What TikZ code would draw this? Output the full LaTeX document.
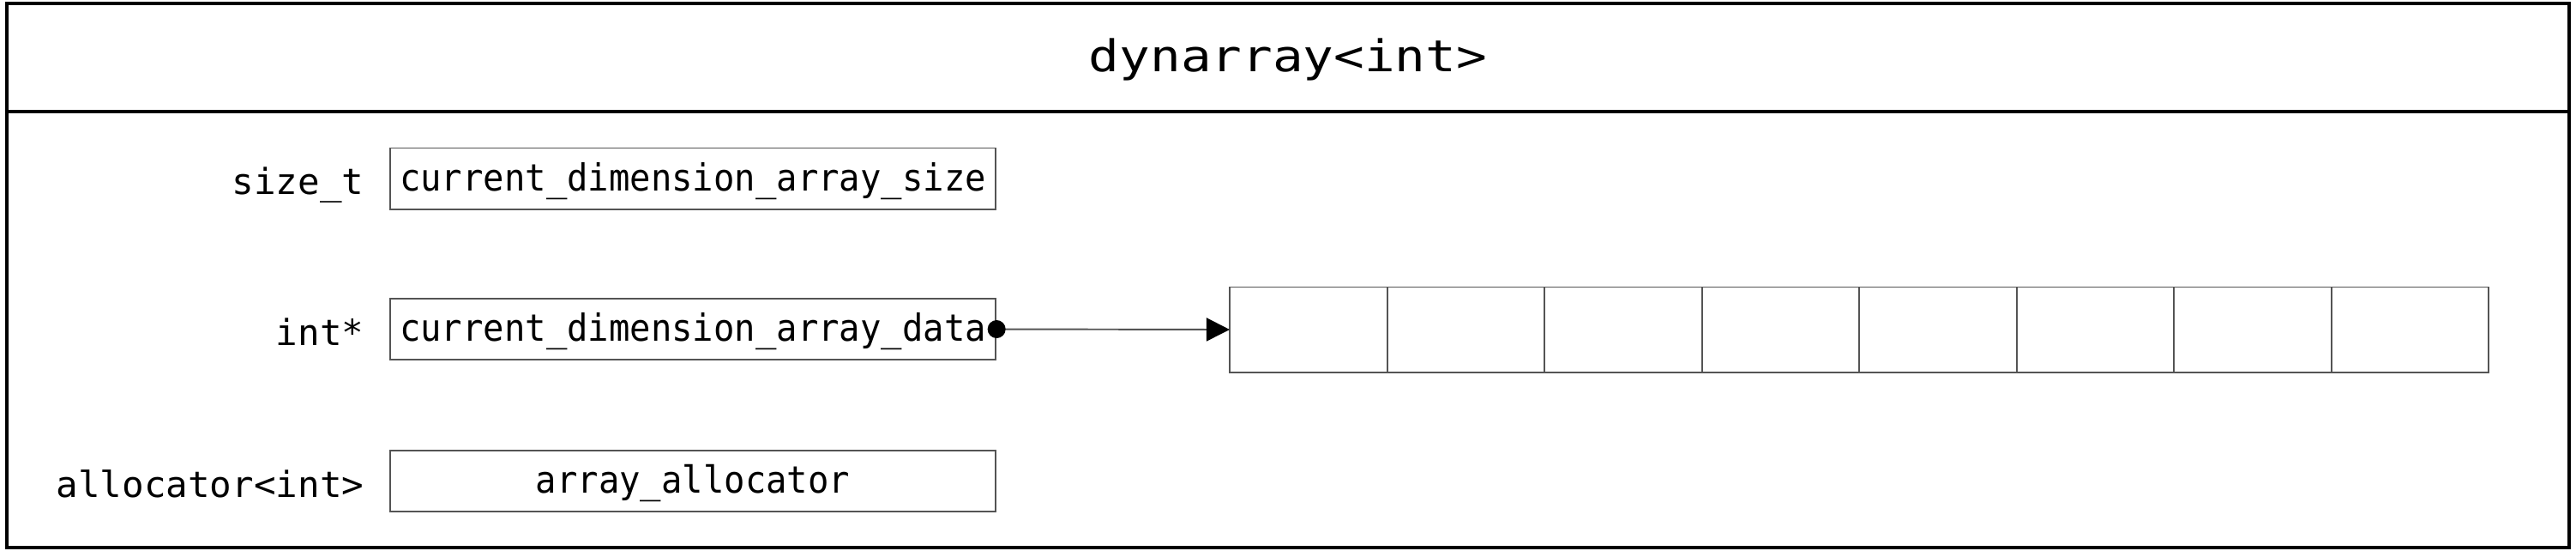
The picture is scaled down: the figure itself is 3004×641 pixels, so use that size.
\documentclass[tikz,border=0pt]{standalone}
\usepackage{fontspec}
\usetikzlibrary{arrows.meta}
\newfontfamily\fieldfont[FakeStretch=0.934]{DejaVu Sans Mono}
\newfontfamily\lblfont[FakeStretch=1.02]{DejaVu Sans Mono}
\newfontfamily\titlefont[FakeStretch=1.165]{DejaVu Sans Mono}
\definecolor{boxgray}{gray}{0.33}
\tikzset{
  frameline/.style={line width=1.14pt, draw=black},
  fieldbox/.style={draw=boxgray, line width=0.55pt, minimum width=7.06cm, minimum height=0.71cm,
    inner sep=0pt, text height=0.36cm, text depth=0.08cm,
    font=\fieldfont\fontsize{12.35pt}{14pt}\selectfont},
  lbltext/.style={anchor=base east, inner sep=0pt, font=\lblfont\fontsize{11.86pt}{14pt}\selectfont},
  titletext/.style={anchor=base, inner sep=0pt, font=\titlefont\fontsize{14.48pt}{17pt}\selectfont},
  cellbox/.style={draw=boxgray, line width=0.55pt, minimum width=1.835cm, minimum height=0.99cm, inner sep=0pt, outer sep=0pt},
  ptr/.style={draw=boxgray, line width=0.55pt, -{Triangle[length=0.27cm,width=0.27cm,fill=black,color=black]}},
}
\begin{document}
\begin{tikzpicture}[x=0.01cm,y=-0.01cm]
\useasboundingbox (0,0) rectangle (3004,641);
% outer frame
\draw[frameline] (8,3.8) rectangle (2996,638);
\draw[frameline] (8,130) -- (2996,130);
\node[titletext] (title) at (1502,83) {dynarray<int>};
% fields
\node[fieldbox] (fsize) at (808,208) {current\_dimension\_array\_size};
\node[fieldbox] (fdata) at (808,383.5) {current\_dimension\_array\_data};
\node[fieldbox] (falloc) at (808,560.5) {array\_allocator};
% type labels
\node[lbltext] (lsize) at (425,226) {size\_t};
\node[lbltext] (ldata) at (425,402) {int*};
\node[lbltext] (lalloc) at (425,579) {allocator<int>};
% array cells
\foreach \i in {1,...,8} {
  \node[cellbox] (c\i) at ({1434+183.5*(\i-0.5)},384) {};
}
% pointer
\draw[ptr] (fdata.east) -- (c1.west);
\fill[black] (fdata.east) circle (10.5);
\end{tikzpicture}
\end{document}
